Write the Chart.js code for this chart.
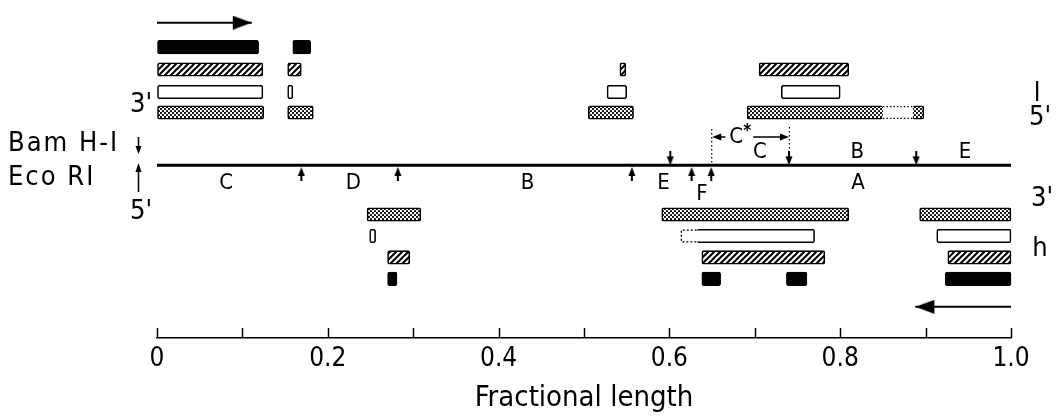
<!DOCTYPE html>
<html>
<head>
<meta charset="utf-8">
<script src="https://cdn.jsdelivr.net/npm/chart.js@4.4.1/dist/chart.umd.min.js"></script>
<style>
html, body { margin: 0; padding: 0; background: #fff; }
#wrap { width: 1060px; height: 419px; }
</style>
</head>
<body>
<div id="wrap"><canvas id="map"></canvas></div>
<script>
// fragment extents on the map, as fractional length
// l strand, drawn above the map
const lBlack   = [[0, 0.119], [0.159, 0.180]];
const lHatched = [[0, 0.124], [0.153, 0.169], [0.542, 0.549], [0.705, 0.810]];
const lOpen    = [[0, 0.124], [0.153, 0.159], [0.527, 0.550], [0.731, 0.800]];
const lStipple = [[0, 0.125], [0.153, 0.183], [0.505, 0.558], [0.691, 0.850], [0.885, 0.898]];
const lStippleGap = [[0.850, 0.885]];
// h strand, drawn below the map
const hStipple = [[0.246, 0.309], [0.591, 0.810], [0.893, 1.0]];
const hOpen    = [[0.249, 0.256], [0.632, 0.770], [0.913, 1.0]];
const hOpenGap = [[0.614, 0.632]];
const hHatched = [[0.270, 0.296], [0.638, 0.782], [0.926, 1.0]];
const hBlack   = [[0.270, 0.281], [0.638, 0.660], [0.737, 0.761], [0.923, 1.0]];

// restriction sites
const bamSites = [0.601, 0.740, 0.889];
const ecoSites = [0.169, 0.282, 0.556, 0.626, 0.649];
const bamFragments = ['C', 'B', 'E'];
const bamFragmentPos = [0.706, 0.820, 0.946];
const ecoFragments = ['C', 'D', 'B', 'E', 'F', 'A'];
const ecoFragmentPos = [0.081, 0.230, 0.434, 0.593, 0.638, 0.821];
const cStar = [0.649, 0.740];
const cStarLabelPos = 0.683;

// transcription direction arrows [tail, tip]
const arrowL = [0, 0.111];
const arrowH = [1.0, 0.888];

const xTicks = [0, 0.1, 0.2, 0.3, 0.4, 0.5, 0.6, 0.7, 0.8, 0.9, 1.0];
const xTickLabels = ['0', '', '0.2', '', '0.4', '', '0.6', '', '0.8', '', '1.0'];

const FONT = "'Liberation Sans Narrow', 'DejaVu Sans Condensed', sans-serif";

// vertical layout of the tracks (hidden y scale, top-down)
const LEVEL = {
  arrowL: 15, lBlack: 40, lHatched: 63, lOpen: 86, lStipple: 107,
  cStar: 132, bamText: 148, bamMark: 154, map: 161, ecoMark: 170, ecoText: 180, fText: 191,
  hStipple: 211.5, hOpen: 233.5, hHatched: 255.5, hBlack: 277.5, arrowH: 306
};
const BAR_H = 13.5;

function makePattern(kind) {
  const c = document.createElement('canvas');
  const g = c.getContext('2d');
  if (kind === 'hatch') {
    c.width = 6; c.height = 6;
    g.fillStyle = '#fff'; g.fillRect(0, 0, 6, 6);
    g.strokeStyle = '#000'; g.lineWidth = 2;
    g.beginPath();
    g.moveTo(0, 6); g.lineTo(6, 0);
    g.moveTo(-3, 3); g.lineTo(3, -3);
    g.moveTo(3, 9); g.lineTo(9, 3);
    g.stroke();
  } else {
    c.width = 4; c.height = 4;
    g.fillStyle = '#fff'; g.fillRect(0, 0, 4, 4);
    g.fillStyle = '#000';
    g.beginPath(); g.arc(1, 1, 1.1, 0, Math.PI * 2); g.fill();
    g.beginPath(); g.arc(3, 3, 1.1, 0, Math.PI * 2); g.fill();
  }
  return g.createPattern(c, 'repeat');
}

function siteMark(up) {
  const c = document.createElement('canvas');
  c.width = 8; c.height = 14;
  const g = c.getContext('2d');
  if (!up) { g.translate(0, 14); g.scale(1, -1); }
  g.fillStyle = '#000';
  g.beginPath(); g.moveTo(4, 0); g.lineTo(7.5, 9); g.lineTo(0.5, 9); g.closePath(); g.fill();
  g.fillRect(3, 8, 2, 6);
  return c;
}

function arrowHead(right) {
  const c = document.createElement('canvas');
  c.width = 40; c.height = 14;
  const g = c.getContext('2d');
  g.fillStyle = '#000';
  g.beginPath();
  if (right) { g.moveTo(1, 0); g.lineTo(20, 7); g.lineTo(1, 14); }
  else { g.moveTo(39, 0); g.lineTo(20, 7); g.lineTo(39, 14); }
  g.closePath(); g.fill();
  return c;
}

const HATCH = makePattern('hatch');
const STIPPLE = makePattern('stipple');
const gaps = lStippleGap.concat(hOpenGap);

function edgeWidths(r) {
  const w = 1.6;
  if (!r) return w;
  const left = gaps.some(g => Math.abs(g[1] - r[0]) < 1e-6) ? 0 : w;
  const right = gaps.some(g => Math.abs(g[0] - r[1]) < 1e-6) ? 0 : w;
  return {top: w, bottom: w, left: left, right: right};
}

function barSet(rows, level, fill) {
  return {
    type: 'bar',
    indexAxis: 'y',
    grouped: false,
    barThickness: BAR_H,
    data: rows.map(r => ({x: r, y: level})),
    backgroundColor: fill,
    borderColor: '#000',
    borderSkipped: false,
    borderRadius: 2,
    borderWidth: ctx => edgeWidths(ctx.raw && ctx.raw.x),
    clip: false
  };
}

function lineSet(points, width, dash) {
  return {
    type: 'line',
    data: points,
    borderColor: '#000',
    borderWidth: width,
    borderDash: dash || [],
    pointRadius: 0,
    fill: false,
    clip: false
  };
}

function pointSet(points, style) {
  return {
    type: 'scatter',
    data: points,
    pointStyle: style,
    pointRadius: 7,
    pointHoverRadius: 7,
    clip: false
  };
}

const datasets = [
  barSet(lBlack, LEVEL.lBlack, '#000'),
  barSet(lHatched, LEVEL.lHatched, HATCH),
  barSet(lOpen, LEVEL.lOpen, '#fff'),
  barSet(lStipple, LEVEL.lStipple, STIPPLE),
  barSet(hStipple, LEVEL.hStipple, STIPPLE),
  barSet(hOpen, LEVEL.hOpen, '#fff'),
  barSet(hHatched, LEVEL.hHatched, HATCH),
  barSet(hBlack, LEVEL.hBlack, '#000'),
  // main map line
  lineSet([{x: 0, y: LEVEL.map}, {x: 1, y: LEVEL.map}], 3),
  // direction arrows
  lineSet([{x: arrowL[0], y: LEVEL.arrowL}, {x: arrowL[1], y: LEVEL.arrowL}], 2),
  pointSet([{x: arrowL[1], y: LEVEL.arrowL}], arrowHead(true)),
  lineSet([{x: arrowH[0], y: LEVEL.arrowH}, {x: arrowH[1], y: LEVEL.arrowH}], 2),
  pointSet([{x: arrowH[1], y: LEVEL.arrowH}], arrowHead(false)),
  // restriction sites
  pointSet(bamSites.map(v => ({x: v, y: LEVEL.bamMark})), siteMark(false)),
  pointSet(ecoSites.map(v => ({x: v, y: LEVEL.ecoMark})), siteMark(true))
];

// uncertain stretches: dotted outline only
lStippleGap.forEach(g => {
  const t = LEVEL.lStipple - BAR_H / 2 + 0.8, b = LEVEL.lStipple + BAR_H / 2 - 0.8;
  datasets.push(lineSet([{x: g[0], y: t}, {x: g[1], y: t}], 1.3, [1.5, 2]));
  datasets.push(lineSet([{x: g[0], y: b}, {x: g[1], y: b}], 1.3, [1.5, 2]));
});
hOpenGap.forEach(g => {
  const t = LEVEL.hOpen - BAR_H / 2 + 0.8, b = LEVEL.hOpen + BAR_H / 2 - 0.8;
  datasets.push(lineSet([{x: g[1], y: t}, {x: g[0], y: t}, {x: g[0], y: b}, {x: g[1], y: b}], 1.3, [2, 2]));
});

function tri(ctx, x, y, dir, len, half) {
  ctx.beginPath();
  ctx.moveTo(x, y);
  ctx.lineTo(x - dir * len, y - half);
  ctx.lineTo(x - dir * len, y + half);
  ctx.closePath();
  ctx.fill();
}

const annotations = {
  id: 'annotations',
  afterDraw(chart) {
    const {ctx, chartArea} = chart;
    const x = chart.scales.x, y = chart.scales.y;
    ctx.save();
    ctx.fillStyle = '#000';
    ctx.strokeStyle = '#000';

    // axis tick marks point up from the axis line
    ctx.lineWidth = 1.5;
    xTicks.forEach(v => {
      const px = Math.round(x.getPixelForValue(v)) + 0.5;
      ctx.beginPath();
      ctx.moveTo(px, chartArea.bottom - 10);
      ctx.lineTo(px, chartArea.bottom);
      ctx.stroke();
    });

    // fragment letters
    ctx.font = '22px ' + FONT;
    ctx.textAlign = 'center';
    ctx.textBaseline = 'middle';
    bamFragments.forEach((t, i) => {
      ctx.fillText(t, x.getPixelForValue(bamFragmentPos[i]), y.getPixelForValue(LEVEL.bamText));
    });
    ecoFragments.forEach((t, i) => {
      const lv = t === 'F' ? LEVEL.fText : LEVEL.ecoText;
      ctx.fillText(t, x.getPixelForValue(ecoFragmentPos[i]), y.getPixelForValue(lv));
    });

    // C* fragment bracket
    const xa = x.getPixelForValue(cStar[0]);
    const xb = x.getPixelForValue(cStar[1]);
    const cy = y.getPixelForValue(LEVEL.cStar);
    ctx.lineWidth = 1.2;
    ctx.setLineDash([1.5, 2.5]);
    ctx.beginPath();
    ctx.moveTo(xa + 0.5, cy - 8); ctx.lineTo(xa + 0.5, y.getPixelForValue(LEVEL.map));
    ctx.moveTo(xb + 0.5, cy - 10); ctx.lineTo(xb + 0.5, y.getPixelForValue(LEVEL.bamMark) - 6);
    ctx.stroke();
    ctx.setLineDash([]);
    const xc = x.getPixelForValue(cStarLabelPos);
    const wc = ctx.measureText('C').width;
    ctx.fillText('C', xc - 4, cy);
    ctx.font = 'bold 17px ' + FONT;
    ctx.fillText('*', xc - 4 + wc / 2 + 4, cy - 5);
    ctx.lineWidth = 1.5;
    ctx.beginPath();
    ctx.moveTo(xa + 6, cy); ctx.lineTo(xc - 4 - wc / 2 - 4, cy);
    ctx.moveTo(xc - 4 + wc / 2 + 10, cy); ctx.lineTo(xb - 6, cy);
    ctx.stroke();
    tri(ctx, xa + 1, cy, -1, 9, 3.5);
    tri(ctx, xb, cy, 1, 9, 3.5);

    // strand and enzyme captions
    ctx.font = '27px ' + FONT;
    ctx.textAlign = 'center';
    ctx.fillText("3'", 141, 105);
    ctx.fillText("5'", 141, 212);
    ctx.fillText('l', 1037, 94);
    ctx.fillText("5'", 1040, 118);
    ctx.fillText("3'", 1042, 199);
    ctx.fillText('h', 1040, 249);
    ctx.textAlign = 'left';
    ctx.letterSpacing = '2px';
    ctx.fillText('Bam H-I', 8, 144);
    ctx.fillText('Eco RI', 8, 178);
    ctx.letterSpacing = '0px';

    // little enzyme arrows beside the captions
    ctx.lineWidth = 1.5;
    ctx.beginPath();
    ctx.moveTo(138.5, 137); ctx.lineTo(138.5, 148);
    ctx.moveTo(138.5, 170); ctx.lineTo(138.5, 192);
    ctx.stroke();
    ctx.beginPath();
    ctx.moveTo(138.5, 154); ctx.lineTo(135.5, 146); ctx.lineTo(141.5, 146); ctx.closePath(); ctx.fill();
    ctx.beginPath();
    ctx.moveTo(138.5, 163); ctx.lineTo(135.5, 172); ctx.lineTo(141.5, 172); ctx.closePath(); ctx.fill();
    ctx.restore();
  }
};

new Chart(document.getElementById('map').getContext('2d'), {
  type: 'bar',
  data: {datasets: datasets},
  options: {
    responsive: true,
    maintainAspectRatio: false,
    animation: false,
    events: [],
    layout: {padding: {left: 157, right: 49, top: 0, bottom: 0}},
    plugins: {legend: {display: false}, tooltip: {enabled: false}},
    scales: {
      x: {
        type: 'linear',
        position: 'bottom',
        offset: false,
        min: 0,
        max: 1,
        afterFit: s => { s.height = 81; },
        afterBuildTicks: s => { s.ticks = xTicks.map(v => ({value: v})); },
        ticks: {
          autoSkip: false,
          maxRotation: 0,
          padding: 6,
          color: '#000',
          font: {family: FONT, size: 26},
          callback: (v, i) => xTickLabels[i]
        },
        grid: {display: true, offset: false, drawOnChartArea: false, drawTicks: false},
        border: {display: true, color: '#000', width: 1.5},
        title: {
          display: true,
          text: 'Fractional length',
          color: '#000',
          font: {family: FONT, size: 29},
          padding: {top: 0, bottom: 3}
        }
      },
      y: {
        type: 'linear',
        display: false,
        reverse: true,
        offset: false,
        min: 0,
        max: 338
      }
    }
  },
  plugins: [annotations]
});
</script>
</body>
</html>
